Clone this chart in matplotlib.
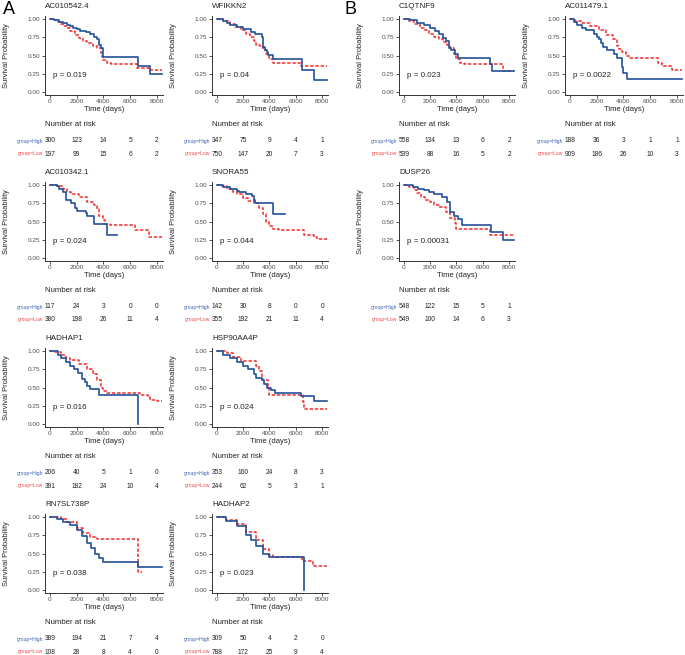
import matplotlib
matplotlib.use('Agg')
import matplotlib.pyplot as plt
from matplotlib.transforms import blended_transform_factory

plt.rcParams['font.family'] = ['Liberation Sans', 'DejaVu Sans']

# Kaplan-Meier curves: (time, survival) steps
AC010542_4_HIGH = [(0, 1.0), (300, 0.99), (700, 0.96), (1000, 0.94), (1250, 0.92), (1500, 0.90), (1700, 0.88),
                   (2000, 0.86), (2250, 0.84), (2700, 0.82), (3000, 0.80), (3300, 0.76), (3500, 0.72),
                   (3700, 0.65), (3850, 0.60), (3950, 0.48), (6600, 0.36), (7500, 0.24), (8400, 0.24)]
AC010542_4_LOW = [(0, 1.0), (400, 0.98), (600, 0.96), (800, 0.93), (1000, 0.90), (1200, 0.88), (1500, 0.83),
                  (1900, 0.78), (2200, 0.74), (2500, 0.70), (2800, 0.67), (3200, 0.63), (3500, 0.60),
                  (3800, 0.53), (3900, 0.48), (4000, 0.44), (4300, 0.40), (4600, 0.38), (6500, 0.33),
                  (7400, 0.30), (8400, 0.30)]

WFIKKN2_HIGH = [(0, 1.0), (500, 0.97), (800, 0.95), (1000, 0.92), (1500, 0.89), (2000, 0.86), (2600, 0.82),
                (2900, 0.80), (3400, 0.75), (3500, 0.62), (3650, 0.58), (3800, 0.55), (3900, 0.51),
                (4300, 0.45), (6450, 0.30), (7400, 0.16), (8400, 0.16)]
WFIKKN2_LOW = [(0, 1.0), (500, 0.97), (1000, 0.93), (1400, 0.89), (1800, 0.85), (2200, 0.80), (2500, 0.76),
               (2800, 0.70), (3000, 0.65), (3300, 0.61), (3500, 0.58), (3700, 0.52), (4000, 0.45),
               (4300, 0.40), (6400, 0.36), (7000, 0.35), (8400, 0.35)]

C1QTNF9_HIGH = [(0, 1.0), (500, 0.98), (1000, 0.95), (1500, 0.92), (2000, 0.88), (2400, 0.84), (2700, 0.80),
                (3000, 0.74), (3200, 0.70), (3450, 0.60), (3600, 0.57), (3900, 0.52), (4100, 0.47),
                (6550, 0.38), (6700, 0.29), (8400, 0.29)]
C1QTNF9_LOW = [(0, 1.0), (400, 0.97), (800, 0.93), (1200, 0.88), (1500, 0.85), (1900, 0.80), (2300, 0.76),
               (2700, 0.72), (3000, 0.68), (3300, 0.64), (3500, 0.60), (3800, 0.52), (4000, 0.45),
               (4300, 0.40), (4600, 0.39), (7500, 0.29), (8400, 0.29)]

AC011479_1_HIGH = [(0, 1.0), (300, 0.96), (500, 0.92), (900, 0.88), (1200, 0.85), (1800, 0.80), (2000, 0.76),
                   (2200, 0.72), (2350, 0.67), (2500, 0.62), (2800, 0.57), (3300, 0.52), (3500, 0.47),
                   (3900, 0.34), (3950, 0.26), (4300, 0.18), (8400, 0.18)]
AC011479_1_LOW = [(0, 1.0), (400, 0.97), (800, 0.95), (1500, 0.90), (2200, 0.85), (2700, 0.78), (3200, 0.72),
                  (3500, 0.63), (3700, 0.59), (3900, 0.55), (4200, 0.50), (4500, 0.47), (6600, 0.40),
                  (6900, 0.36), (7600, 0.30), (8400, 0.30)]

AC010342_1_HIGH = [(0, 1.0), (500, 0.98), (700, 0.95), (1000, 0.90), (1200, 0.80), (1600, 0.75), (1900, 0.69),
                   (2000, 0.65), (2700, 0.62), (2800, 0.57), (3300, 0.47), (4300, 0.32), (5000, 0.32)]
AC010342_1_LOW = [(0, 1.0), (500, 0.98), (1000, 0.95), (1300, 0.91), (1600, 0.88), (2200, 0.83), (2800, 0.77),
                  (3300, 0.72), (3500, 0.67), (3700, 0.58), (4000, 0.52), (4100, 0.47), (4500, 0.45),
                  (6350, 0.38), (7400, 0.29), (8400, 0.29)]

SNORA55_HIGH = [(0, 1.0), (500, 0.97), (1000, 0.94), (1500, 0.92), (1700, 0.90), (2200, 0.87), (2700, 0.85),
                (2800, 0.80), (2900, 0.75), (4300, 0.60), (5200, 0.60)]
SNORA55_LOW = [(0, 1.0), (400, 0.98), (800, 0.95), (1200, 0.91), (1500, 0.88), (2000, 0.82), (2400, 0.78),
               (2800, 0.75), (3200, 0.68), (3500, 0.60), (3700, 0.50), (4000, 0.44), (4300, 0.40),
               (4700, 0.39), (6600, 0.31), (7400, 0.29), (7600, 0.26), (8400, 0.26)]

DUSP26_HIGH = [(0, 1.0), (700, 0.97), (1100, 0.95), (1500, 0.93), (1900, 0.90), (2300, 0.88), (2900, 0.84),
               (3300, 0.77), (3500, 0.63), (3800, 0.57), (4100, 0.53), (4400, 0.45), (6600, 0.35),
               (7500, 0.24), (8400, 0.24)]
DUSP26_LOW = [(0, 1.0), (400, 0.97), (800, 0.93), (1000, 0.89), (1300, 0.84), (1600, 0.80), (2000, 0.77),
              (2300, 0.73), (2700, 0.70), (3200, 0.63), (3500, 0.55), (3900, 0.48), (4000, 0.40),
              (6550, 0.31), (8400, 0.31)]

HADHAP1_HIGH = [(0, 1.0), (600, 0.95), (800, 0.90), (1200, 0.85), (1500, 0.80), (1800, 0.76), (2100, 0.70),
                (2400, 0.62), (2600, 0.57), (2800, 0.52), (3000, 0.48), (3700, 0.40), (6600, 0.0), (6600, 0.0)]
HADHAP1_LOW = [(0, 1.0), (400, 0.98), (800, 0.95), (1200, 0.91), (1500, 0.88), (2200, 0.82), (2800, 0.75),
               (3200, 0.68), (3500, 0.60), (3800, 0.50), (4000, 0.45), (4300, 0.42), (6700, 0.40),
               (7300, 0.37), (7500, 0.33), (8000, 0.32), (8400, 0.32)]

HSP90AA4P_HIGH = [(0, 1.0), (500, 0.95), (1000, 0.90), (1500, 0.85), (2000, 0.80), (2400, 0.75), (2800, 0.68),
                  (3000, 0.63), (3400, 0.60), (3600, 0.55), (3800, 0.50), (4100, 0.47), (4400, 0.43),
                  (6400, 0.38), (7400, 0.31), (8400, 0.31)]
HSP90AA4P_LOW = [(0, 1.0), (800, 0.97), (1200, 0.92), (1800, 0.86), (3000, 0.80), (3200, 0.73), (3400, 0.62),
                 (3500, 0.60), (3850, 0.50), (4000, 0.40), (6550, 0.30), (6600, 0.20), (8400, 0.20)]

RN7SL738P_HIGH = [(0, 1.0), (500, 0.97), (1000, 0.93), (1500, 0.89), (2000, 0.82), (2400, 0.74), (2800, 0.65),
                  (3100, 0.57), (3400, 0.50), (3700, 0.44), (4000, 0.38), (6600, 0.32), (8400, 0.32)]
RN7SL738P_LOW = [(0, 1.0), (800, 0.97), (1300, 0.93), (2000, 0.85), (2500, 0.78), (3000, 0.72), (3500, 0.70),
                 (6600, 0.24), (6900, 0.24)]

HADHAP2_HIGH = [(0, 1.0), (700, 0.95), (1500, 0.88), (2200, 0.75), (2600, 0.68), (3000, 0.60), (3500, 0.50),
                (4000, 0.45), (6600, 0.0), (6600, 0.0)]
HADHAP2_LOW = [(0, 1.0), (700, 0.96), (1500, 0.90), (2200, 0.80), (3000, 0.68), (3500, 0.56), (4000, 0.48),
               (4300, 0.45), (6500, 0.40), (7300, 0.33), (8400, 0.33)]

risk_times = [0, 2000, 4000, 6000, 8000]

genes = ['AC010542.4', 'WFIKKN2', 'AC010342.1', 'SNORA55', 'HADHAP1', 'HSP90AA4P',
         'RN7SL738P', 'HADHAP2', 'C1QTNF9', 'AC011479.1', 'DUSP26']
p_values = ['0.019', '0.04', '0.024', '0.044', '0.016', '0.024',
            '0.038', '0.023', '0.023', '0.0022', '0.00031']
risk_high = [[300, 123, 14, 5, 2], [347, 75, 9, 4, 1], [117, 24, 3, 0, 0], [142, 30, 8, 0, 0],
             [206, 40, 5, 1, 0], [353, 160, 24, 8, 3], [389, 194, 21, 7, 4], [309, 50, 4, 2, 0],
             [558, 134, 13, 6, 2], [188, 36, 3, 1, 1], [548, 122, 15, 5, 1]]
risk_low = [[197, 99, 15, 6, 2], [750, 147, 20, 7, 3], [380, 198, 26, 11, 4], [355, 192, 21, 11, 4],
            [391, 182, 24, 10, 4], [244, 62, 5, 3, 1], [108, 28, 8, 4, 0], [788, 172, 25, 9, 4],
            [539, 88, 16, 5, 2], [909, 186, 26, 10, 3], [549, 100, 14, 6, 3]]
curves = [(AC010542_4_HIGH, AC010542_4_LOW), (WFIKKN2_HIGH, WFIKKN2_LOW),
          (AC010342_1_HIGH, AC010342_1_LOW), (SNORA55_HIGH, SNORA55_LOW),
          (HADHAP1_HIGH, HADHAP1_LOW), (HSP90AA4P_HIGH, HSP90AA4P_LOW),
          (RN7SL738P_HIGH, RN7SL738P_LOW), (HADHAP2_HIGH, HADHAP2_LOW),
          (C1QTNF9_HIGH, C1QTNF9_LOW), (AC011479_1_HIGH, AC011479_1_LOW),
          (DUSP26_HIGH, DUSP26_LOW)]

# grid slot (column, row) of each panel
slots = [(0, 0), (1, 0), (0, 1), (1, 1), (0, 2), (1, 2), (0, 3), (1, 3), (2, 0), (3, 0), (2, 1)]

W, H = 685, 655
col_px = [(45, 163), (212, 328), (399, 515), (565, 683)]
ROW_STEP = 166

BLUE = '#23509A'
RED = '#F52A2A'
TXT_BLUE = '#3A63B0'
TXT_RED = '#F24848'
GRAY = '#4D4D4D'

fig = plt.figure(figsize=(W / 100, H / 100), dpi=100)


def fy(py):
    return 1 - py / H


for i, gene in enumerate(genes):
    c, r = slots[i]
    x0, x1 = col_px[c]
    top = 16 + ROW_STEP * r
    bot = 95 + ROW_STEP * r
    ax = fig.add_axes([x0 / W, fy(bot), (x1 - x0) / W, (bot - top) / H])

    hi, lo = curves[i]
    ax.step([p[0] for p in lo], [p[1] for p in lo], where='post', color=RED, lw=1.1,
            linestyle=(0, (2.2, 1.2)))
    ax.step([p[0] for p in hi], [p[1] for p in hi], where='post', color=BLUE, lw=1.2)

    ax.set_xlim(-370, 8450)
    ax.set_ylim(-0.041, 1.041)
    ax.set_xticks(risk_times)
    ax.set_yticks([0, 0.25, 0.5, 0.75, 1.0])
    ax.set_yticklabels(['0.00', '0.25', '0.50', '0.75', '1.00'])
    ax.tick_params(labelsize=4.6, length=2, width=0.6, pad=1.2, colors='#333333', labelcolor=GRAY)
    for s in ['top', 'right']:
        ax.spines[s].set_visible(False)
    for s in ['left', 'bottom']:
        ax.spines[s].set_linewidth(0.7)
        ax.spines[s].set_color('#333333')

    ax.text(250, 0.22, 'p = ' + p_values[i], fontsize=5.8, color='#222222', va='center', ha='left')
    fig.text(x0 / W, fy(top - 9), gene, fontsize=5.8, color='#222222', va='center', ha='left')
    fig.text((x0 - 38) / W, fy((top + bot) / 2), 'Survival Probability', fontsize=5.4,
             color='#222222', rotation=90, va='center', ha='center')
    ax.set_xlabel('Time (days)', fontsize=5.5, color='#222222', labelpad=1.0)

    # number at risk table under the plot
    tr = blended_transform_factory(ax.transData, fig.transFigure)
    fig.text(x0 / W, fy(124 + ROW_STEP * r), 'Number at risk', fontsize=5.6, color='#222222',
             va='center', ha='left')
    for k, t in enumerate(risk_times):
        ax.text(t, fy(141 + ROW_STEP * r), str(risk_high[i][k]), transform=tr, fontsize=4.8,
                color='#222222', ha='center', va='center')
        ax.text(t, fy(154 + ROW_STEP * r), str(risk_low[i][k]), transform=tr, fontsize=4.8,
                color='#222222', ha='center', va='center')
    fig.text((x0 - 2) / W, fy(141 + ROW_STEP * r), 'group=High', fontsize=3.6, color=TXT_BLUE,
             va='center', ha='right')
    fig.text((x0 - 2) / W, fy(154 + ROW_STEP * r), 'group=Low', fontsize=3.6, color=TXT_RED,
             va='center', ha='right')

fig.text(3 / W, fy(10), 'A', fontsize=13, va='center', ha='left')
fig.text(344 / W, fy(10), 'B', fontsize=13, va='center', ha='left')

fig.savefig('out.png', dpi=100)
